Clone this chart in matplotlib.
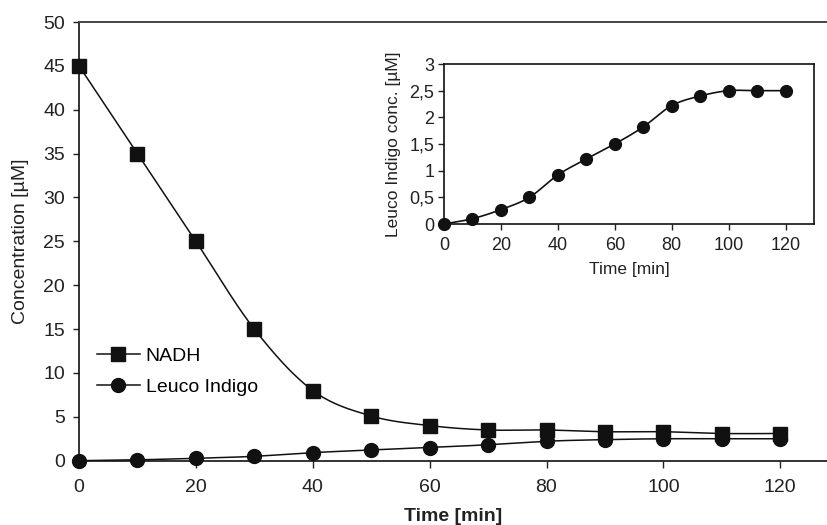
import numpy as np
import matplotlib
matplotlib.use("Agg")
import matplotlib.pyplot as plt
from matplotlib.lines import Line2D

plt.rcParams["font.family"] = ["Liberation Sans", "DejaVu Sans"]

# Sampling times [min]
time_min = [0, 10, 20, 30, 40, 50, 60, 70, 80, 90, 100, 110, 120]
# NADH concentration [µM]
nadh = [45, 35, 25, 15, 8, 5.1, 4.0, 3.5, 3.5, 3.3, 3.3, 3.1, 3.1]
# Leuco indigo concentration [µM]
leuco = [0, 0.1, 0.27, 0.5, 0.92, 1.22, 1.5, 1.82, 2.22, 2.4, 2.5, 2.5, 2.5]

main_xticks = [0, 20, 40, 60, 80, 100, 120]
main_yticks = [0, 5, 10, 15, 20, 25, 30, 35, 40, 45, 50]
inset_yticks = [0, 0.5, 1, 1.5, 2, 2.5, 3]
inset_yticklabels = ["0", "0,5", "1", "1,5", "2", "2,5", "3"]


def smooth(x, y, n=30):
    """Catmull-Rom spline through the measured points (for display only)."""
    x = np.asarray(x, float)
    y = np.asarray(y, float)
    px = np.concatenate([[2 * x[0] - x[1]], x, [2 * x[-1] - x[-2]]])
    py = np.concatenate([[2 * y[0] - y[1]], y, [2 * y[-1] - y[-2]]])
    xs, ys = [], []
    t = np.linspace(0, 1, n, endpoint=False)
    for i in range(1, len(px) - 2):
        for arr, out in ((px, xs), (py, ys)):
            p0, p1, p2, p3 = arr[i - 1], arr[i], arr[i + 1], arr[i + 2]
            out.append(0.5 * (2 * p1 + (-p0 + p2) * t
                              + (2 * p0 - 5 * p1 + 4 * p2 - p3) * t ** 2
                              + (-p0 + 3 * p1 - 3 * p2 + p3) * t ** 3))
    xs.append([x[-1]])
    ys.append([y[-1]])
    return np.concatenate(xs), np.concatenate(ys)


W, H = 827, 525
fig = plt.figure(figsize=(W / 100, H / 100), dpi=100)

ink = "#111111"
txt = "#222222"

# ---- main panel ----
ax = fig.add_axes([79 / W, 1 - 460.7 / H, (W - 79) / W, (460.7 - 22) / H])
sx, sy = smooth(time_min, nadh)
ax.plot(sx, sy, color=ink, lw=1.1, zorder=2)
sx, sy = smooth(time_min, leuco)
ax.plot(sx, sy, color=ink, lw=1.1, zorder=2)
ax.plot(time_min, leuco, ls="none", marker="o", ms=10, color=ink,
        clip_on=False, zorder=3)
ax.plot(time_min, nadh, ls="none", marker="s", ms=10, color=ink,
        clip_on=False, zorder=4)

ax.set_xlim(0, 128)
ax.set_ylim(0, 50)
ax.set_xticks(main_xticks)
ax.set_yticks(main_yticks)
ax.tick_params(axis="both", labelsize=14, direction="out", colors=txt,
               labelcolor=txt)
ax.tick_params(axis="x", length=5, width=1, pad=8)
ax.tick_params(axis="y", length=4, width=1, pad=6)
ax.spines["right"].set_visible(False)
ax.spines["top"].set_color("#444444")
ax.spines["top"].set_linewidth(1.4)
for s in ("left", "bottom"):
    ax.spines[s].set_color(ink)
    ax.spines[s].set_linewidth(1.2)
ax.set_xlabel("Time [min]", fontsize=14, fontweight="bold", labelpad=9,
              color=txt)
ax.set_ylabel("Concentration [µM]", fontsize=14, labelpad=10, color=txt)

handles = [
    Line2D([], [], color=ink, lw=1.1, marker="s", ms=10),
    Line2D([], [], color=ink, lw=1.1, marker="o", ms=10),
]
ax.legend(handles, ["NADH", "Leuco Indigo"], loc="upper left",
          bbox_to_anchor=(97 / W, 1 - 347 / H), bbox_transform=fig.transFigure,
          frameon=False, fontsize=14, handlelength=2.2, handletextpad=0.3,
          labelspacing=0.72, borderpad=0, borderaxespad=0)

# ---- inset ----
ins = fig.add_axes([444 / W, 1 - 224 / H, (814 - 444) / W, (224 - 64) / H])
ins.set_facecolor("white")
sx, sy = smooth(time_min, leuco)
ins.plot(sx, sy, color=ink, lw=1.2, zorder=2)
ins.plot(time_min, leuco, ls="none", marker="o", ms=8.5, color=ink,
         clip_on=False, zorder=3)
ins.set_xlim(0, 130)
ins.set_ylim(0, 3)
ins.set_xticks(main_xticks)
ins.set_yticks(inset_yticks)
ins.set_yticklabels(inset_yticklabels)
ins.tick_params(axis="both", labelsize=13, direction="out", length=4,
                width=1, pad=3, colors=txt, labelcolor=txt)
ins.tick_params(axis="x", pad=5)
for s in ins.spines.values():
    s.set_color(ink)
    s.set_linewidth(1.2)
ins.set_xlabel("Time [min]", fontsize=12.5, labelpad=6, color=txt)
ins.set_ylabel("Leuco Indigo conc. [µM]", fontsize=12.5, labelpad=6,
               color=txt)

fig.savefig("out.png", dpi=100)
